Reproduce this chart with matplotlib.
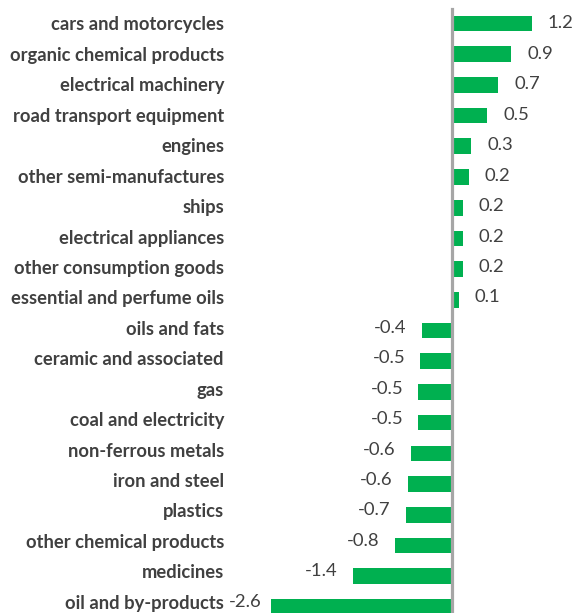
import matplotlib
matplotlib.use("Agg")
import matplotlib.pyplot as plt
from matplotlib.transforms import ScaledTranslation, blended_transform_factory

categories = [
    "cars and motorcycles", "organic chemical products", "electrical machinery",
    "road transport equipment", "engines", "other semi-manufactures", "ships",
    "electrical appliances", "other consumption goods", "essential and perfume oils",
    "oils and fats", "ceramic and associated", "gas", "coal and electricity",
    "non-ferrous metals", "iron and steel", "plastics", "other chemical products",
    "medicines", "oil and by-products",
]
values = [1.16, 0.86, 0.67, 0.51, 0.28, 0.24, 0.16, 0.16, 0.16, 0.10,
          -0.44, -0.46, -0.49, -0.49, -0.60, -0.64, -0.67, -0.83, -1.44, -2.62]

GREEN = "#00B050"
TEXT = "#404040"
FONT = "Lato"
TEXT_PITCH = 0.9912  # text rows are spaced slightly tighter than the bars

fig = plt.figure(figsize=(5.73, 6.13), dpi=100)
ax = fig.add_axes([262 / 573, 0, 311 / 573, 1])
ypos = list(range(len(categories)))
ax.barh(ypos, values, height=0.51, color=GREEN, zorder=2)
xmin, xmax = -2.754, 1.754
ax.set_xlim(xmin, xmax)
ax.set_ylim(19.2, -0.765)
ax.axvline(0, ymin=0, ymax=0.985, color="#A6A6A6", lw=2.3, zorder=3)

for y, v in zip(ypos, values):
    ty = y * TEXT_PITCH
    if v >= 0:
        ax.text(v + 0.23, ty, f"{v:.1f}", ha="left", va="center",
                fontsize=13.3, color=TEXT, family=FONT)
    else:
        ax.text(max(v - 0.22, xmin), ty, f"{v:.1f}", ha="right", va="center",
                fontsize=13.3, color=TEXT, family=FONT)

lab_tr = blended_transform_factory(ax.transAxes, ax.transData) + \
    ScaledTranslation(-38 / 100, 0, fig.dpi_scale_trans)
for y, name in zip(ypos, categories):
    ax.text(0, y * TEXT_PITCH, name, ha="right", va="center_baseline",
            fontsize=13.2, fontweight="bold", color=TEXT, family=FONT,
            transform=lab_tr)

ax.set_yticks([])
ax.set_xticks([])
for s in ax.spines.values():
    s.set_visible(False)

fig.savefig("out.png", dpi=100)
